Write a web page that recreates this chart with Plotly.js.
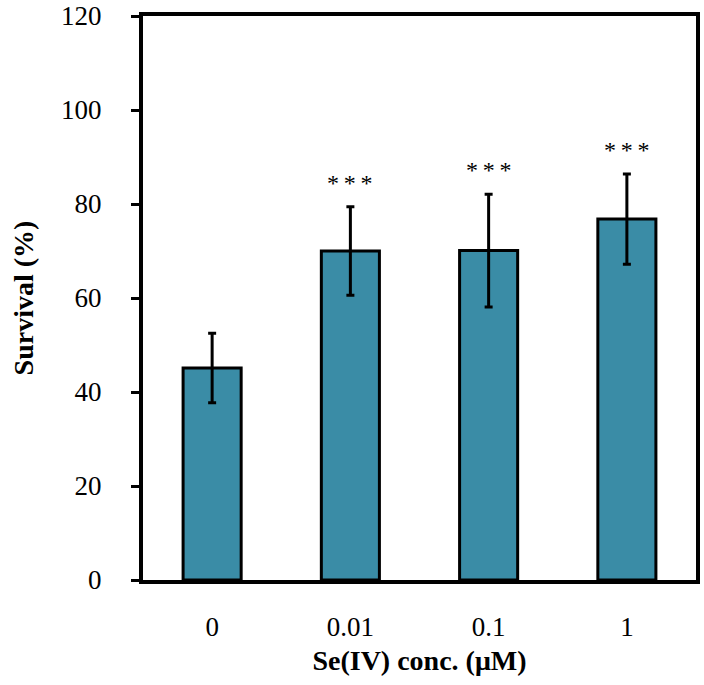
<!DOCTYPE html>
<html>
<head>
<meta charset="utf-8">
<script src="https://cdn.plot.ly/plotly-3.0.1.min.js"></script>
<style>html,body{margin:0;padding:0;background:#fff;}#chart{width:704px;height:685px;}</style>
</head>
<body>
<div id="chart"></div>
<script>
const categories = ['0', '0.01', '0.1', '1'];
const survival = [45.1, 70.0, 70.1, 76.8];
const errors = [7.4, 9.4, 12.0, 9.6];
const significance = ['', '***', '***', '***'];

const serif = 'Liberation Serif, Times New Roman, serif';

const annotations = [];
categories.forEach((c, i) => {
  if (!significance[i]) return;
  annotations.push({
    x: i, y: survival[i] + errors[i], xref: 'x', yref: 'y',
    text: significance[i].split('').join('\u2009'), showarrow: false, yanchor: 'bottom', yshift: 9,
    font: {family: serif, size: 24, color: '#000'}
  });
});

const trace = {
  type: 'bar', x: categories, y: survival, width: 0.42,
  marker: {color: '#3a8ca6', line: {color: '#000', width: 3}},
  error_y: {type: 'data', array: errors, visible: true, color: '#000', thickness: 3, width: 4}
};

const layout = {
  width: 704, height: 685,
  margin: {l: 143, r: 8, t: 16, b: 105},
  paper_bgcolor: '#fff', plot_bgcolor: '#fff',
  showlegend: false,
  font: {family: serif, color: '#000'},
  xaxis: {
    type: 'category', showline: true, linecolor: '#000', linewidth: 4, mirror: true,
    ticks: '', showgrid: false, zeroline: false,
    tickfont: {family: serif, size: 27, color: '#000'}, ticklabelstandoff: 20,
    title: {text: '<b>Se(IV) conc. (μM)</b>', font: {family: serif, size: 28, color: '#000'}, standoff: 10}
  },
  yaxis: {
    range: [0, 120], dtick: 20, showline: true, linecolor: '#000', linewidth: 4, mirror: true,
    ticks: 'outside', ticklen: 8, tickwidth: 3, tickcolor: '#000', showgrid: false, zeroline: false,
    tickfont: {family: serif, size: 27, color: '#000'}, ticklabelstandoff: 24,
    title: {text: '<b>Survival (%)</b>', font: {family: serif, size: 28, color: '#000'}, standoff: 20}
  },
  annotations: annotations
};

Plotly.newPlot('chart', [trace], layout, {displayModeBar: false, staticPlot: true});
</script>
</body>
</html>
